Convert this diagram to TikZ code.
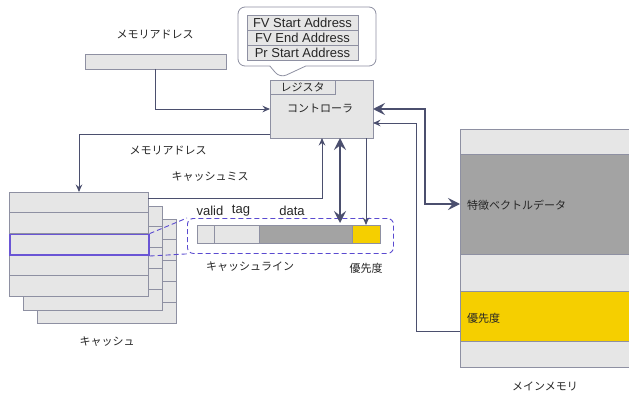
\documentclass[tikz,border=0pt]{standalone}
\usepackage{fontspec}
\setmainfont{Liberation Sans}
\newfontfamily\jp{Noto Sans CJK JP}
\usetikzlibrary{arrows.meta,calc,shapes.callouts}
\definecolor{lg}{HTML}{E6E6E6}
\definecolor{dg}{HTML}{A3A3A3}
\definecolor{yl}{HTML}{F5CF00}
\definecolor{bord}{HTML}{8E90A2}
\definecolor{arr}{HTML}{4B4F6E}
\definecolor{pur}{HTML}{6A55D5}
\definecolor{dsh}{HTML}{5A4AD0}
\tikzset{
  gbox/.style={draw=bord, fill=lg, line width=0.8pt, inner sep=0pt, outer sep=0pt},
  jtext/.style={font=\jp\fontsize{11}{13}\selectfont, inner sep=0pt, text=black!85},
  lt/.style={font=\fontsize{13}{15}\selectfont, inner sep=0pt, text=black!85},
  conn/.style={draw=arr, line width=1pt, -{Stealth[length=7.5pt,width=6.5pt,inset=2.5pt]}},
  tconn/.style={draw=arr, line width=2.6pt, {Stealth[length=12pt,width=12pt,inset=4.5pt]}-{Stealth[length=12pt,width=12pt,inset=4.5pt]}},
  dline/.style={draw=dsh, line width=0.9pt, dash pattern=on 5pt off 3pt},
}
\begin{document}
\begin{tikzpicture}[x=1pt,y=-1pt]
\useasboundingbox (0,0) rectangle (629,396);
\clip (0,0) rectangle (629,396);
\fill[white] (0,0) rectangle (629,396);

% callout with registers
\node[rectangle callout, draw=bord, fill=white, rounded corners=7pt, line width=0.8pt,
      minimum width=138pt, minimum height=59pt, inner sep=0pt,
      callout absolute pointer={(280,78)}, callout pointer width=36pt] (bub) at (307,36.5) {};
\node[gbox, lt, minimum width=111pt, minimum height=15pt] (r1) at (302.5,22.5) {FV Start Address};
\node[gbox, lt, minimum width=111pt, minimum height=15pt] (r2) at (302.5,37.5) {FV End Address};
\node[gbox, lt, minimum width=111pt, minimum height=15pt] (r3) at (302.5,52.5) {Pr Start Address};

% controller
\node[gbox, minimum width=103pt, minimum height=58pt, anchor=north west] (ctrl) at (270,80) {};
\node[gbox, jtext, minimum width=65pt, minimum height=14pt, anchor=north west] (reg) at (270,80) {レジスタ};
\node[jtext] (ctrltxt) at (320,108) {コントローラ};

% memory address bar
\node[gbox, minimum width=141pt, minimum height=15pt, anchor=north west] (addr) at (85,54) {};
\node[jtext] (addrlbl) at (155,35) {メモリアドレス};

% cache stack
\node[gbox, minimum width=139pt, minimum height=104pt, anchor=north west] (c3) at (37,219) {};
\foreach \i in {1,...,4} \draw[bord, line width=0.8pt] ($(c3.north west)+(0,\i*20.8)$) -- ($(c3.north east)+(0,\i*20.8)$);
\node[gbox, minimum width=139pt, minimum height=104pt, anchor=north west] (c2) at (23,206) {};
\foreach \i in {1,...,4} \draw[bord, line width=0.8pt] ($(c2.north west)+(0,\i*20.8)$) -- ($(c2.north east)+(0,\i*20.8)$);
\node[gbox, minimum width=139pt, minimum height=104pt, anchor=north west] (c1) at (9,192) {};
\foreach \i in {1,...,4} \draw[bord, line width=0.8pt] ($(c1.north west)+(0,\i*20.8)$) -- ($(c1.north east)+(0,\i*20.8)$);
\node[draw=pur, line width=1.6pt, minimum width=139pt, minimum height=20.8pt, anchor=north west, inner sep=0pt] (hl) at (9,233.6) {};
\node[jtext] (cachelbl) at (107,342) {キャッシュ};

% cache line
\node[dline, rounded corners=6pt, minimum width=206pt, minimum height=35pt, anchor=north west, inner sep=0pt] (clbox) at (187,218) {};
\node[gbox, minimum width=17pt, minimum height=18pt, anchor=north west] (valid) at (197,225) {};
\node[gbox, minimum width=45pt, minimum height=18pt, anchor=north west] (tag) at (214,225) {};
\node[gbox, fill=dg, minimum width=93pt, minimum height=18pt, anchor=north west] (dataseg) at (259,225) {};
\node[gbox, fill=yl, minimum width=28pt, minimum height=18pt, anchor=north west] (prio) at (352,225) {};
\node[lt] (validlbl) at (210,211) {valid};
\node[lt] (taglbl) at (241,211) {tag};
\node[lt] (datalbl) at (292,211) {data};
\node[jtext] (cllbl) at (250,267) {キャッシュライン};
\node[jtext] (priolbl) at (366,268) {優先度};
\draw[dline] (hl.north east) -- (clbox.north west);
\draw[dline] (hl.south east) -- (clbox.south west);

% main memory
\node[gbox, minimum width=175pt, minimum height=25pt, anchor=north west] (m1) at (460,129) {};
\node[gbox, fill=dg, minimum width=175pt, minimum height=100pt, anchor=north west] (fv) at (460,154) {};
\node[gbox, minimum width=175pt, minimum height=37pt, anchor=north west] (m3) at (460,254) {};
\node[gbox, fill=yl, minimum width=175pt, minimum height=50pt, anchor=north west] (mprio) at (460,291) {};
\node[gbox, minimum width=175pt, minimum height=26pt, anchor=north west] (m5) at (460,341) {};
\node[jtext, anchor=west] (fvlbl) at ($(fv.west)+(7,1)$) {特徴ベクトルデータ};
\node[jtext, anchor=west] (mpriolbl) at ($(mprio.west)+(7,2)$) {優先度};
\node[jtext] (mmlbl) at (545,386) {メインメモリ};

% labels
\node[jtext] (addrlbl2) at (168,151) {メモリアドレス};
\node[jtext] (misslbl) at (210,177) {キャッシュミス};

% connectors
\draw[conn] (addr.south) |- (ctrl.west);
\draw[conn] ([yshift=4pt]ctrl.south west) -| ($(c1.north west)+(70,0)$);
\draw[conn] ([yshift=-6pt]c1.north east) -| ($(ctrl.south west)+(52,0)$);
\draw[tconn] ($(ctrl.south west)+(70,0)$) -- ($(dataseg.north west)+(81,-2)$);
\draw[conn] (ctrl.south -| prio.north) -- (prio.north);
\draw[tconn] (ctrl.east) -- ++(52,0) |- (fv.west);
\draw[conn] ([yshift=-15pt]mprio.west) -- ++(-44,0) |- ([yshift=-14pt]ctrl.east);
\end{tikzpicture}
\end{document}
